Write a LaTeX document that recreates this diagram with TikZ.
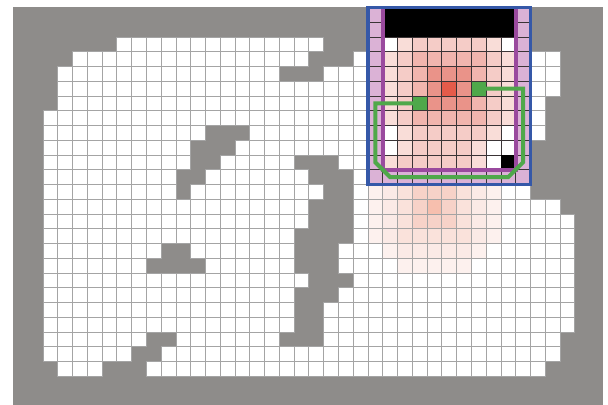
\documentclass[tikz,border=0pt]{standalone}
\usepackage{xcolor}
\usepackage{tikz}
\definecolor{gmGray}{HTML}{8E8C8A}
\definecolor{gmGrid}{HTML}{A4A4A4}
\definecolor{gmDark}{HTML}{3A3436}
\definecolor{gmPurple}{HTML}{9A4A9E}
\definecolor{gmPurpleL}{HTML}{DBB2D6}
\definecolor{gmGreen}{HTML}{4FA84A}
\definecolor{gmBlue}{HTML}{3558A8}
% heat levels, reached area
\definecolor{heatA0}{HTML}{FFFFFF}
\definecolor{heatA1}{HTML}{F9DDD8}
\definecolor{heatA2}{HTML}{F5CCC7}
\definecolor{heatA3}{HTML}{F1B5AE}
\definecolor{heatA4}{HTML}{EA9389}
\definecolor{heatA5}{HTML}{E55B4A}
% heat levels, faint area
\definecolor{heatB0}{HTML}{FFFFFF}
\definecolor{heatB1}{HTML}{FDF1EE}
\definecolor{heatB2}{HTML}{FBEAE6}
\definecolor{heatB3}{HTML}{FAE2DB}
\definecolor{heatB4}{HTML}{F7D2C8}
\definecolor{heatB5}{HTML}{F7BFAE}
\tikzset{
  gm-cell/.style={draw=gmGrid, line width=0.55pt, fill=white},
  gm-view/.style={draw=gmDark, line width=0.55pt},
  gm-wall/.style={draw=gmPurple, line width=3pt, line join=miter},
  gm-route/.style={draw=gmGreen, line width=3pt, line join=miter},
  gm-gate/.style={fill=gmGreen, draw=gmDark, line width=0.4pt, minimum size=11pt, inner sep=0pt}
}
\begin{document}
\begin{tikzpicture}[x=11.0775pt, y=-11.0625pt]
\useasboundingbox (-2.911,-2.508) rectangle (38.254,24.949);
% Map
\fill[gmGray] (-2,-2) rectangle (37.94,24.949);
\foreach \r/\a/\b in {0/5/18,
  1/2/17, 1/21/21, 1/33/34,
  2/1/15, 2/19/21, 2/33/34,
  3/1/21, 3/33/34,
  4/1/21, 4/33/33,
  5/0/21, 5/33/33,
  6/0/10, 6/14/21, 6/33/33,
  7/0/9, 7/13/21,
  8/0/9, 8/12/16, 8/20/21,
  9/0/8, 9/11/17, 9/21/21,
  10/0/8, 10/10/18, 10/21/32,
  11/0/17, 11/21/34,
  12/0/17, 12/21/35,
  13/0/16, 13/21/35,
  14/0/7, 14/10/16, 14/20/35,
  15/0/6, 15/11/16, 15/20/35,
  16/0/17, 16/21/35,
  17/0/16, 17/20/35,
  18/0/16, 18/19/35,
  19/0/16, 19/19/35,
  20/0/6, 20/9/15, 20/19/34,
  21/0/5, 21/8/34,
  22/1/3, 22/7/33}
  \foreach \c in {\a,...,\b}
    \draw[gm-cell] (\c,\r) rectangle ++(1,1);

% Faint heat
\foreach \r/\vals in {10/{1,2,3,4,4,4,3,2,1},
  11/{1,2,3,4,5,4,3,2,1},
  12/{1,2,3,4,4,4,3,2,1},
  13/{1,2,3,3,3,3,3,2,1},
  14/{0,1,2,2,2,2,2,1,0},
  15/{0,0,1,1,1,1,1,0,0}}
  \foreach \v [count=\c from 22] in \vals
    \draw[gm-cell, fill=heatB\v] (\c,\r) rectangle ++(1,1);

% Field of view
\foreach \r in {-2,...,9}
  \foreach \c in {22,32}
    \draw[gm-view, fill=gmPurpleL] (\c,\r) rectangle ++(1,1);
\foreach \c in {23,...,31}
  \draw[gm-view, fill=gmPurpleL] (\c,9) rectangle ++(1,1);
\fill[black] (23,-2) rectangle (32,0);
\foreach \r/\vals in {0/{0,1,2,2,2,2,2,1,0},
  1/{1,2,3,3,3,3,3,2,1},
  2/{1,2,3,4,4,4,3,2,1},
  3/{1,2,3,4,5,4,3,2,1},
  4/{1,2,3,4,4,4,3,2,1},
  5/{1,2,3,3,3,3,3,2,1},
  6/{0,1,2,2,2,2,2,1,0},
  7/{0,1,2,2,2,2,1,0,0},
  8/{1,2,2,2,2,2,1,0,0}}
  \foreach \v [count=\c from 23] in \vals
    \draw[gm-view, fill=heatA\v] (\c,\r) rectangle ++(1,1);
\fill[black] (31,8) rectangle (32,9);

% Walls and route
\draw[gm-wall] (23,-2) -- (23,9) -- (32,9) -- (32,-2);
\node[gm-gate] (gateR) at (29.5,3.5) {};
\node[gm-gate] (gateL) at (25.5,4.5) {};
\draw[gm-route] (gateR.center) -- (32.5,3.5) -- (32.5,8.5) -- (31.5,9.5)
  -- (23.5,9.5) -- (22.5,8.5) -- (22.5,4.5) -- (gateL.center);
\draw[draw=gmBlue, line width=2.4pt] (22,-2) rectangle (33,10);
\end{tikzpicture}
\end{document}
